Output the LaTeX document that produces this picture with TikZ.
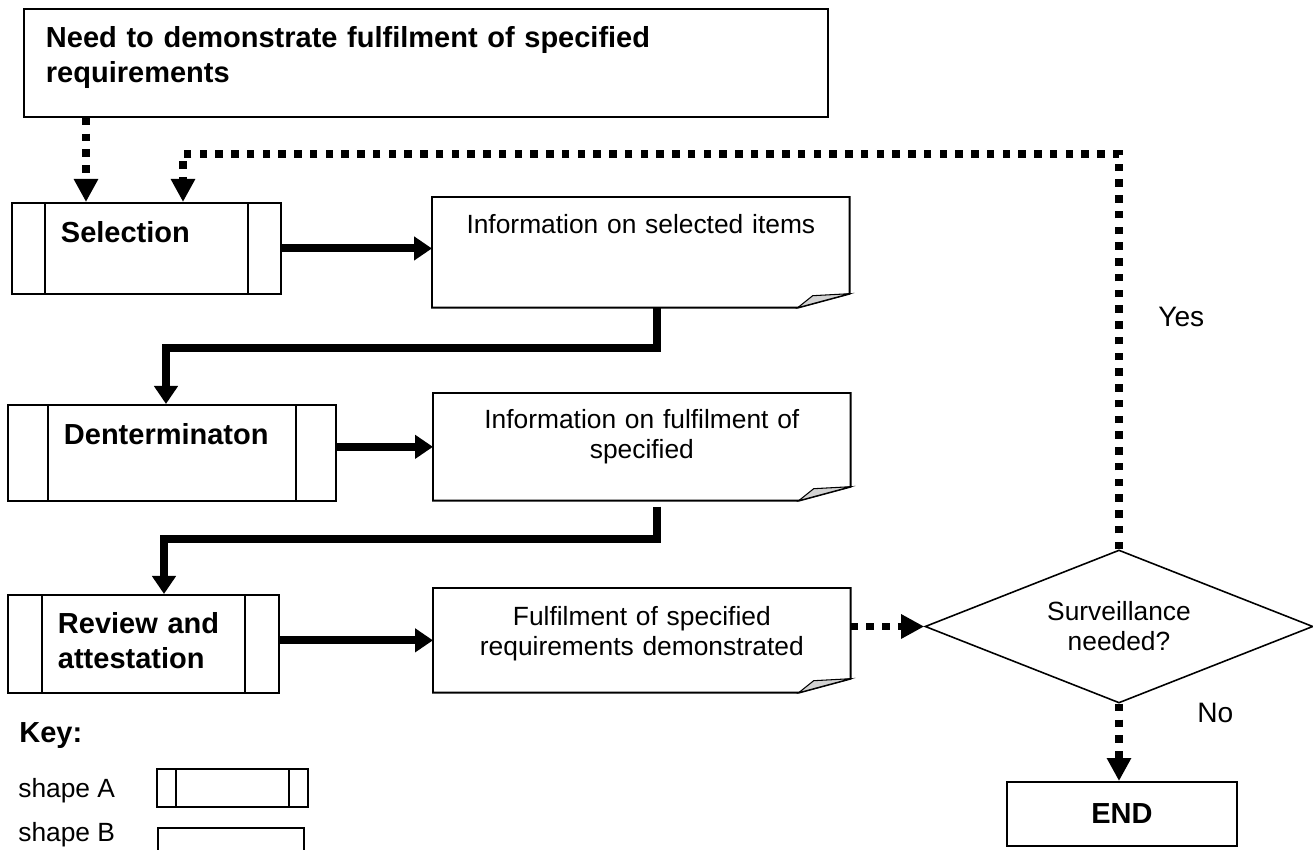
\documentclass[tikz,border=0pt]{standalone}
\usepackage{fontspec}
\setmainfont{Liberation Sans}
\usepackage{tikz}
\usetikzlibrary{arrows.meta, shapes.geometric}
\newcommand{\boxfont}{\fontsize{16.5}{19.9}\selectfont\bfseries}
\newcommand{\notefont}{\fontsize{15}{17}\selectfont}
\newcommand{\labfont}{\fontsize{16}{19}\selectfont}
\newcommand{\foldnote}[1]{%
  \draw[line width=1.1pt] (#1.north west) -- (#1.north east) -- ([yshift=0.28cm]#1.south east)
    -- ([xshift=-1.04cm]#1.south east) -- (#1.south west) -- cycle;
  \filldraw[fill=gray!35, line width=0.6pt] ([xshift=-1.04cm]#1.south east)
    -- ([xshift=-0.74cm,yshift=0.24cm]#1.south east) -- ([yshift=0.28cm]#1.south east) -- cycle;}
\tikzset{
  procbox/.style={draw, line width=1.1pt, align=left, font=\boxfont, inner ysep=0pt,
    path picture={\draw[line width=1.1pt]
      ([xshift=#1]path picture bounding box.north west) -- ([xshift=#1]path picture bounding box.south west)
      ([xshift=-#1]path picture bounding box.north east) -- ([xshift=-#1]path picture bounding box.south east);}},
  note/.style={anchor=north west, align=center, font=\notefont, text width=7.94cm, inner xsep=0.2cm, inner ysep=0pt},
  decision/.style={diamond, draw, line width=0.9pt, aspect=2.54, minimum width=7.76cm, minimum height=3.06cm,
    inner sep=0pt, align=center, font=\notefont},
  flow/.style={line width=0.16cm, -{Triangle[length=0.36cm, width=0.46cm]}},
  dotflow/.style={line width=0.15cm, dash pattern=on 0.15cm off 0.165cm, -{Triangle[length=0.46cm, width=0.46cm]}}
}

\begin{document}
\begin{tikzpicture}
    \useasboundingbox (0,0) rectangle (26.26,17);
    \node[draw, line width=1.1pt, anchor=north west, align=left, font=\boxfont, text width=15.2cm,
      inner xsep=0.44cm, inner ysep=0pt, text height=0.78cm, text depth=1.38cm] (need) at (0.46,16.84)
      {Need to demonstrate fulfilment of specified\\requirements};
    \node[procbox=0.66cm, anchor=north west, text width=3.42cm, inner xsep=0.98cm,
      text height=0.8cm, text depth=1.02cm] (sel) at (0.22,12.96) {Selection};
    \node[procbox=0.8cm, anchor=north west, text width=4.32cm, inner xsep=1.12cm,
      text height=0.8cm, text depth=1.12cm] (dent) at (0.14,8.92) {Denterminaton};
    \node[procbox=0.68cm, anchor=north west, text width=3.42cm, inner xsep=1cm,
      text height=0.78cm, text depth=1.18cm] (rev) at (0.14,5.12) {Review and\\attestation};
    \node[note, text height=0.72cm, text depth=1.48cm] (info1) at (8.64,13.06) {Information on selected items};
    \node[note, text height=0.7cm, text depth=1.44cm] (info2) at (8.66,9.14) {Information on fulfilment of\\specified};
    \node[note, text height=0.74cm, text depth=1.34cm] (info3) at (8.66,5.24) {Fulfilment of specified\\requirements demonstrated};
    \foldnote{info1}
    \foldnote{info2}
    \foldnote{info3}
    \node[decision] (surv) at (22.38,4.47) {Surveillance\\needed?};
    \node[draw, line width=1.1pt, font=\boxfont, minimum width=4.6cm, minimum height=1.28cm] (end) at (22.44,0.72) {END};
    \coordinate (fb) at (3.66,13.92);
    % labels and key
    \node[anchor=base west, inner sep=0pt, font=\labfont] (yes) at (23.16,10.46) {Yes};
    \node[anchor=base west, inner sep=0pt, font=\labfont] (no) at (23.94,2.54) {No};
    \node[anchor=base west, inner sep=0pt, font=\boxfont] (key) at (0.38,2.14) {Key:};
    \node[anchor=base west, inner sep=0pt, font=\notefont] (keya) at (0.36,1.04) {shape A};
    \node[anchor=base west, inner sep=0pt, font=\notefont] (keyb) at (0.36,0.16) {shape B};
    \node[procbox=0.38cm, minimum width=3.02cm, minimum height=0.76cm] (shapea) at (4.65,1.24) {};
    \node[draw, line width=1.1pt, anchor=north west, minimum width=2.92cm, minimum height=0.76cm] (shapeb) at (3.14,0.46) {};
    % solid arrows
    \draw[flow] (sel.east) -- (sel.east -| info1.west);
    \draw[flow] (dent.east |- info2.west) -- (info2.west);
    \draw[flow] (rev.east |- info3.west) -- (info3.west);
    \draw[flow] ([xshift=0.33cm]info1.south) -- ++(0,-0.8cm) -| ([xshift=3.18cm]dent.north west);
    \draw[flow] ([xshift=0.31cm,yshift=-0.12cm]info2.south) -- ++(0,-0.64cm) -| ([xshift=3.14cm]rev.north west);
    % dotted arrows
    \draw[dotflow] ([xshift=1.26cm]need.south west) -- ([xshift=1.5cm]sel.north west);
    \draw[dotflow] (surv.north) |- (fb) -- (fb |- sel.north);
    \draw[dotflow] (info3.east |- surv.west) -- (surv.west);
    \draw[dotflow] (surv.south) -- (surv.south |- end.north);
\end{tikzpicture}
\end{document}
